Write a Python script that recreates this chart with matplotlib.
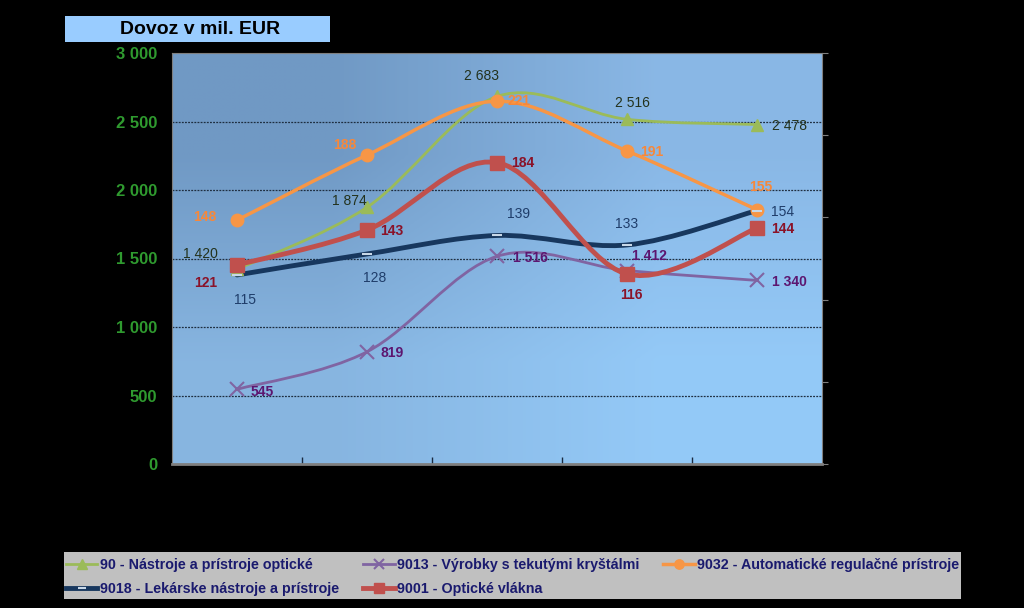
import numpy as np
import matplotlib
matplotlib.use("Agg")
import matplotlib.pyplot as plt
from matplotlib.path import Path
from matplotlib.patches import PathPatch, Rectangle
from matplotlib.lines import Line2D

plt.rcParams['font.family'] = ['Liberation Sans', 'DejaVu Sans']

# data (labels as printed on the chart)
categories = [0, 1, 2, 3, 4]
names = ["90 - Nástroje a prístroje optické",
         "9013 - Výrobky s tekutými kryštálmi",
         "9032 - Automatické regulačné prístroje",
         "9018 - Lekárske nástroje a prístroje",
         "9001 - Optické vlákna"]
v90 = [1420, 1874, 2683, 2516, 2478]
v9013 = [545, 819, 1516, 1412, 1340]
v9032 = [1780, 2255, 2648, 2285, 1856]
v9018 = [1380, 1533, 1668, 1599, 1850]
v9001 = [1453, 1708, 2200, 1387, 1722]
lab90 = ["1 420", "1 874", "2 683", "2 516", "2 478"]
lab9013 = ["545", "819", "1 516", "1 412", "1 340"]
lab9032 = ["148", "188", "221", "191", "155"]
lab9018 = ["115", "128", "139", "133", "154"]
lab9001 = ["121", "143", "184", "116", "144"]
yticks = [0, 500, 1000, 1500, 2000, 2500, 3000]
ytick_labels = ["0", "500", "1 000", "1 500", "2 000", "2 500", "3 000"]


def smooth_path(xs, ys):
    # excel-like smoothed line: cubic bezier through the points
    pts = list(zip(xs, ys))
    n = len(pts)
    verts = [pts[0]]
    codes = [Path.MOVETO]
    for i in range(n - 1):
        p0 = pts[i - 1] if i > 0 else pts[i]
        p1 = pts[i]
        p2 = pts[i + 1]
        p3 = pts[i + 2] if i + 2 < n else pts[i + 1]
        c1 = (p1[0] + (p2[0] - p0[0]) / 6, p1[1] + (p2[1] - p0[1]) / 6)
        c2 = (p2[0] - (p3[0] - p1[0]) / 6, p2[1] - (p3[1] - p1[1]) / 6)
        verts += [c1, c2, p2]
        codes += [Path.CURVE4] * 3
    return Path(verts, codes)


fig = plt.figure(figsize=(10.24, 6.08), dpi=100, facecolor="black")
ax = fig.add_axes([172 / 1024, 144 / 608, 650 / 1024, 411 / 608])

# gradient plot area
grad = np.array([[[0.44, 0.60, 0.77], [0.54, 0.72, 0.90]],
                 [[0.53, 0.71, 0.88], [0.58, 0.79, 0.97]]])
ax.imshow(grad, extent=[0, 1, 0, 1], transform=ax.transAxes,
          interpolation="bilinear", aspect="auto", zorder=0)

ax.set_xlim(-0.5, 4.5)
ax.set_ylim(0, 3000)
ax.set_yticks(yticks)
ax.set_yticklabels(ytick_labels)
ax.tick_params(axis="y", length=0, pad=10.5, labelsize=12, labelcolor="#2f9a2f")
for t in ax.get_yticklabels():
    t.set_fontweight("bold")
ax.set_xticks([0.5, 1.5, 2.5, 3.5])
ax.set_xticklabels([])
ax.tick_params(axis="x", direction="in", length=5, width=1, color="#1a2a40")
for y in yticks[1:-1]:
    ax.axhline(y, color="#1e2e40", lw=0.9, ls=(0, (1.5, 1)), zorder=1)
for s in ax.spines.values():
    s.set_color("#7f7f7f")
ax.spines["bottom"].set_linewidth(2)

series = [
    # values, labels, color, lw, marker, ms, mfc, label color, weight, offsets
    (v90, lab90, "#9bbb59", 2.0, "^", 9, "#9bbb59", "#23321c", "normal",
     [(-37, 15), (-18, 6), (-16, 20), (5, 16), (32, -1)]),
    (v9013, lab9013, "#8064a2", 2.0, "x", 10, "#8064a2", "#5c1670", "bold",
     [(25, -3), (25, -1), (33, -2), (22, 15), (32, -2)]),
    (v9032, lab9032, "#f79646", 2.5, "o", 9, "#f79646", "#f7883a", "bold",
     [(-32, 3), (-22, 10), (22, 0), (25, -1), (4, 23)]),
    (v9018, lab9018, "#17375e", 3.5, "_", 7, "#c8d8e8", "#1f3d6a", "normal",
     [(8, -25), (8, -24), (22, 21), (0, 21), (26, -1)]),
    (v9001, lab9001, "#c0504d", 3.5, "s", 10, "#c0504d", "#8a1228", "bold",
     [(-31, -18), (25, -1), (26, 0), (4, -21), (26, -1)]),
]

handles = []
for i, (vals, labs, col, lw, mk, ms, mfc, lcol, wt, offs) in enumerate(series):
    ax.add_patch(PathPatch(smooth_path(categories, vals), fill=False,
                           edgecolor=col, lw=lw, capstyle="round", zorder=3 + i))
    mec = mfc if mk != "x" else col
    ax.plot(categories, vals, ls="none", marker=mk, ms=ms, mfc=mfc, mec=mec,
            mew=1.5 if mk in ("x", "_") else 1, zorder=8 + i)
    for x, v, t, o in zip(categories, vals, labs, offs):
        ax.annotate(t, (x, v), xytext=o, textcoords="offset pixels",
                    ha="center", va="center", fontsize=10, color=lcol,
                    fontweight=wt, zorder=15)
    handles.append(Line2D([], [], color=col, lw=lw, marker=mk, ms=ms * 0.75,
                          mfc=mfc, mec=mec, mew=1.5 if mk in ("x", "_") else 1))

# secondary axis (labels invisible on black)
ax2 = ax.twinx()
ax2.set_ylim(0, 5)
ax2.set_yticks([0, 1, 2, 3, 4, 5])
ax2.set_yticklabels([])
ax2.tick_params(axis="y", length=4, color="#7f7f7f")
for s in ax2.spines.values():
    s.set_visible(False)

# title box
fig.patches.append(Rectangle((65 / 1024, 1 - 42 / 608), 265 / 1024, 26 / 608,
                             transform=fig.transFigure, facecolor="#99ccff",
                             edgecolor="none"))
fig.text(200 / 1024, 1 - 29 / 608, "Dovoz v mil. EUR", ha="center", va="center",
         fontsize=14, fontweight="bold", color="black")

# legend box
legbox = Rectangle((64 / 1024, 1 - 599 / 608), 897 / 1024, 47 / 608,
                   transform=fig.transFigure, facecolor="#c0c0c0",
                   edgecolor="none")
fig.patches.append(legbox)
order = [0, 3, 1, 4, 2]
leg = fig.legend([handles[k] for k in order], [names[k] for k in order],
                 ncol=3, loc="upper left", bbox_to_anchor=(66 / 1024, 1 - 558 / 608),
                 frameon=False, borderpad=0, borderaxespad=0,
                 handlelength=2.2, handletextpad=0.15,
                 columnspacing=1.7, labelspacing=0.72,
                 prop={"size": 10.3, "weight": "bold"})
for t in leg.get_texts():
    t.set_color("#1a1a6e")
    t.set_clip_path(legbox)

fig.savefig("out.png", dpi=100, facecolor="black")
